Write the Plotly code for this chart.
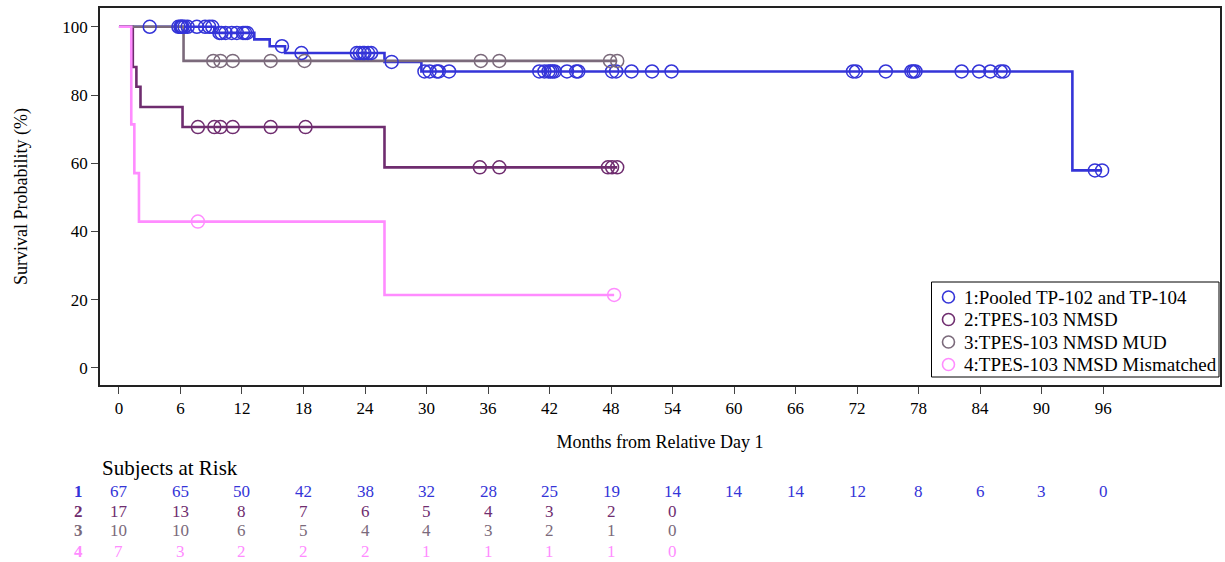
import plotly.graph_objects as go

# Kaplan-Meier step data per group: event times, survival level after each step, censor times
g1_steps = [9.3, 13.2, 14.7, 16.2, 25.9, 29.5, 93.0]
g1_levels = [98.2, 96.3, 94.3, 92.3, 89.7, 86.9, 57.9]
g1_censor = [3.0, 5.8, 6.0, 6.1, 6.2, 6.4, 6.7, 7.6, 8.4, 8.8, 9.1, 9.8, 10.0, 10.4, 11.0, 11.5,
             12.1, 12.3, 12.5, 15.9, 17.8, 23.2, 23.5, 23.8, 23.95, 24.3, 24.6, 26.6, 29.8,
             30.3, 31.0, 31.2, 32.2, 41.0, 41.5, 41.9, 42.1, 42.3, 42.5, 43.7, 44.6, 44.8,
             48.1, 48.5, 50.0, 52.0, 53.9, 71.6, 71.9, 74.8, 77.3, 77.5, 77.7, 82.2, 83.9,
             85.0, 86.0, 86.3, 95.2, 95.9]

g2_steps = [1.35, 1.7, 2.1, 6.2, 25.9]
g2_levels = [88.2, 82.4, 76.5, 70.6, 58.8]
g2_censor = [7.7, 9.3, 9.9, 11.1, 14.8, 18.2, 35.2, 37.1, 47.7, 48.1, 48.6]

g3_steps = [6.3]
g3_levels = [90.0]
g3_censor = [9.2, 9.9, 11.1, 14.8, 18.1, 35.3, 37.1, 47.9, 48.6]

g4_steps = [1.2, 1.5, 1.95, 25.9]
g4_levels = [71.4, 57.1, 42.9, 21.4]
g4_censor = [7.7, 48.3]

group_names = ["1:Pooled TP-102 and TP-104", "2:TPES-103 NMSD",
               "3:TPES-103 NMSD MUD", "4:TPES-103 NMSD Mismatched"]
group_colors = ["#3434D8", "#6F2D6F", "#7B6A7B", "#FF8CFF"]

# Subjects at risk at each 6-month mark
risk_times = [0, 6, 12, 18, 24, 30, 36, 42, 48, 54, 60, 66, 72, 78, 84, 90, 96]
risk_g1 = [67, 65, 50, 42, 38, 32, 28, 25, 19, 14, 14, 14, 12, 8, 6, 3, 0]
risk_g2 = [17, 13, 8, 7, 6, 5, 4, 3, 2, 0]
risk_g3 = [10, 10, 6, 5, 4, 4, 3, 2, 1, 0]
risk_g4 = [7, 3, 2, 2, 2, 1, 1, 1, 1, 0]

x_ticks = list(range(0, 97, 6))
y_ticks = [0, 20, 40, 60, 80, 100]

FONT = "Liberation Serif"

# plot-area geometry in pixels (used to place the legend box and the at-risk table)
W, H = 1225, 562
ML, MR, MT, MB = 100, 3, 8, 177
PW, PH = W - ML - MR, H - MT - MB


def px_x(px):
    return (px - ML) / PW


def px_y(py):
    return (H - MB - py) / PH


groups = [
    (g1_steps, g1_levels, g1_censor),
    (g2_steps, g2_levels, g2_censor),
    (g3_steps, g3_levels, g3_censor),
    (g4_steps, g4_levels, g4_censor),
]
risks = [risk_g1, risk_g2, risk_g3, risk_g4]


def level_at(t, steps, levels):
    val = 100.0
    for s, lv in zip(steps, levels):
        if s <= t:
            val = lv
    return val


fig = go.Figure()

# step curves
for (steps, levels, censor), col in zip(groups, group_colors):
    end = max(censor + steps)
    xs = [0] + steps + [end]
    ys = [100] + levels + [levels[-1]]
    fig.add_trace(go.Scatter(x=xs, y=ys, mode="lines", line=dict(color=col, width=2.6, shape="hv"),
                             showlegend=False, hoverinfo="skip"))

# censor marks
for (steps, levels, censor), col in zip(groups, group_colors):
    cy = [level_at(t, steps, levels) for t in censor]
    fig.add_trace(go.Scatter(x=censor, y=cy, mode="markers",
                             marker=dict(symbol="circle-open", size=13, color=col, line=dict(width=1.5)),
                             showlegend=False, hoverinfo="skip"))

shapes = []
annotations = []

# legend box with open-circle keys
shapes.append(dict(type="rect", xref="paper", yref="paper",
                   x0=px_x(933), x1=px_x(1221), y0=px_y(377), y1=px_y(282),
                   line=dict(color="black", width=1), fillcolor="white", layer="above"))
legend_rows = [297, 319.5, 342, 364.5]
for name, col, ry in zip(group_names, group_colors, legend_rows):
    shapes.append(dict(type="circle", xref="paper", yref="paper", xsizemode="pixel", ysizemode="pixel",
                       xanchor=px_x(950), yanchor=px_y(ry), x0=-6, x1=6, y0=-6, y1=6,
                       line=dict(color=col, width=1.6), layer="above"))
    annotations.append(dict(x=px_x(964), y=px_y(ry), xref="paper", yref="paper", text=name,
                            showarrow=False, xanchor="left", yanchor="middle",
                            font=dict(family=FONT, size=19, color="black")))

# at-risk table
annotations.append(dict(x=0, y=px_y(468), xref="paper", yref="paper", text="Subjects at Risk",
                        showarrow=False, xanchor="left", yanchor="middle",
                        font=dict(family=FONT, size=21, color="black")))
row_px = [492, 511, 530, 551]
for i, (rk, rp) in enumerate(zip(risks, row_px)):
    ry = px_y(rp)
    annotations.append(dict(x=px_x(78), y=ry, xref="paper", yref="paper", text=f"<b>{i + 1}</b>",
                            showarrow=False, xanchor="center", yanchor="middle",
                            font=dict(family=FONT, size=17, color=group_colors[i])))
    for t, n in zip(risk_times, rk):
        annotations.append(dict(x=t, y=ry, xref="x", yref="paper", text=str(n),
                                showarrow=False, xanchor="center", yanchor="middle",
                                font=dict(family=FONT, size=17, color=group_colors[i])))

fig.update_layout(
    width=W, height=H,
    margin=dict(l=ML, r=MR, t=MT, b=MB),
    plot_bgcolor="white", paper_bgcolor="white",
    font=dict(family=FONT, size=17, color="black"),
    showlegend=False,
    shapes=shapes,
    annotations=annotations,
    xaxis=dict(range=[-1.85, 107.4], tickvals=x_ticks, ticks="outside", ticklen=7, tickwidth=1.3,
               showgrid=False, zeroline=False, showline=True, linecolor="#222", linewidth=1.5,
               mirror=True, tickfont=dict(family=FONT, size=17),
               title=dict(text="Months from Relative Day 1", font=dict(family=FONT, size=18), standoff=18)),
    yaxis=dict(range=[-5, 105.5], tickvals=y_ticks, ticks="outside", ticklen=7, tickwidth=1.3,
               showgrid=False, zeroline=False, showline=True, linecolor="#222", linewidth=1.5,
               mirror=True, tickfont=dict(family=FONT, size=17),
               title=dict(text="Survival Probability (%)", font=dict(family=FONT, size=18), standoff=30)),
)

fig.write_html("out.html")
